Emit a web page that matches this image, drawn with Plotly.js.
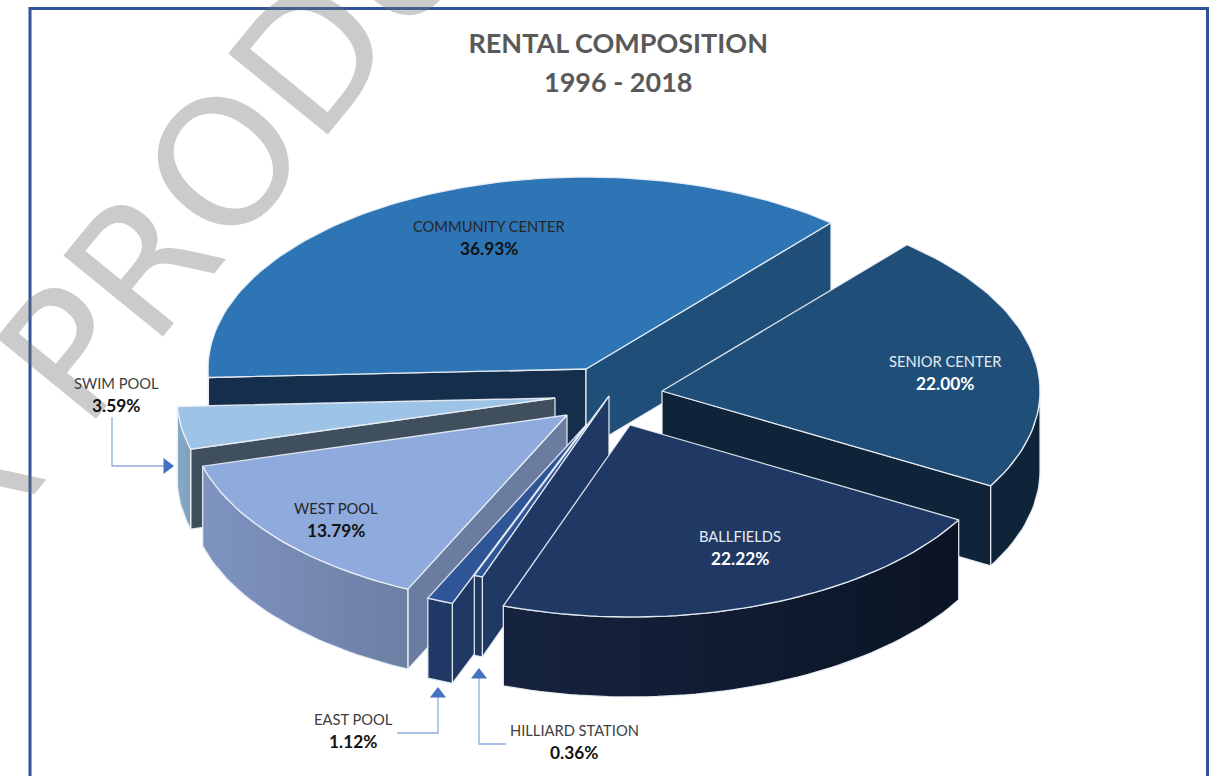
<!DOCTYPE html>
<html>
<head>
<meta charset="utf-8">
<script src="https://cdn.plot.ly/plotly-3.0.1.min.js"></script>
<style>html,body{margin:0;padding:0;background:#fff;overflow:hidden}#chart{width:1223px;height:776px}</style>
</head>
<body>
<div id="chart"></div>
<script>
// Data, clockwise from the back-right edge of the pie
const categories = ["SENIOR CENTER","BALLFIELDS","HILLIARD STATION","EAST POOL","WEST POOL","SWIM POOL","COMMUNITY CENTER"];
const shares = [22.00,22.22,0.36,1.12,13.79,3.59,36.93];
const titleLines = ["RENTAL COMPOSITION","1996 - 2018"];
const watermark = "R PRODU";

// Projection of the tilted, exploded pie
const START_ANGLE = 49.6, RX = 378, RY = 192, DEPTH = 80;
const total = shares.reduce((a,b)=>a+b,0);
const hubs = {
  "SENIOR CENTER":[662,391],"BALLFIELDS":[630,425],"HILLIARD STATION":[609,396],
  "EAST POOL":[587,424],"WEST POOL":[567,415],"SWIM POOL":[555,398],"COMMUNITY CENTER":[586,369]
};
const looks = {
  "SENIOR CENTER":{top:"#1f4e79",wall:"#0f2438",rim:["#0f2438","#0f2438"]},
  "BALLFIELDS":{top:"#1f3864",wall:"#1f3864",rim:["#16233f","#0b1425"]},
  "HILLIARD STATION":{top:"#2e5597",wall:"#1f3864",rim:["#1f3864","#1f3864"]},
  "EAST POOL":{top:"#2f5597",wall:"#203864",rim:["#203a68","#203864"]},
  "WEST POOL":{top:"#8faadc",wall:"#6a7da0",rim:["#7e93c0","#6c80a4"]},
  "SWIM POOL":{top:"#9dc3e6",wall:"#3f4f5e",rim:["#87aac8","#7fa0bc"]},
  "COMMUNITY CENTER":{top:"#2e75b6",wall:"#1f4e79",wall2:"#142e4b",rim:["#142e4b","#142e4b"]}
};
const paintOrder = ["COMMUNITY CENTER","SWIM POOL","WEST POOL","EAST POOL","HILLIARD STATION","SENIOR CENTER","BALLFIELDS"];

// Angular span of each slice, from its share
const spans = {};
let cursor = START_ANGLE;
categories.forEach((c,i)=>{ const next = cursor - shares[i]/total*360; spans[c]=[cursor,next]; cursor = next; });

const rad = d => d*Math.PI/180;
function at(hub,deg,drop){ return [hub[0]+RX*Math.cos(rad(deg)), hub[1]-RY*Math.sin(rad(deg))+(drop||0)]; }
function arc(hub,a,b,drop){ const n=Math.max(2,Math.ceil(Math.abs(a-b)/1.5)), out=[]; for(let i=0;i<=n;i++) out.push(at(hub,a+(b-a)*i/n,drop)); return out; }
const EDGE = "rgba(235,240,246,0.92)";
function poly(pts,color,name,extra){
  const xs=pts.map(p=>p[0]).concat(pts[0][0]), ys=pts.map(p=>p[1]).concat(pts[0][1]);
  return Object.assign({type:"scatter",mode:"lines",x:xs,y:ys,fill:"toself",fillcolor:color,name,
    line:{color:EDGE,width:1.3},hoverinfo:"name",showlegend:false},extra||{});
}
const traces=[];
paintOrder.forEach(c=>{
  const [a1,a2]=spans[c], hub=hubs[c], look=looks[c];
  [[a1,a1+90,look.wall2||look.wall],[a2,a2-90,look.wall]].forEach(([edge,normal,color])=>{
    if(Math.sin(rad(normal))<0){
      const p=at(hub,edge);
      traces.push(poly([[hub[0],hub[1]],p,[p[0],p[1]+DEPTH],[hub[0],hub[1]+DEPTH]],color,c));
    }
  });
  const rimA=Math.min(a1,0), rimB=Math.max(a2,-180);
  if(rimA>rimB){
    const upper=arc(hub,rimA,rimB), lower=arc(hub,rimB,rimA,DEPTH), pts=upper.concat(lower);
    const xs=pts.map(p=>p[0]);
    traces.push(poly(pts,look.rim[0],c,{fillgradient:{type:"horizontal",
      start:Math.min(...xs),stop:Math.max(...xs),colorscale:[[0,look.rim[0]],[1,look.rim[1]]]}}));
  }
  traces.push(poly([[hub[0],hub[1]]].concat(arc(hub,a1,a2)),look.top,c));
});

// Leader lines and their arrow heads
const leaders=[
  {x:[112,112,165],y:[417,466,466],tx:167,ty:466,sym:"triangle-right"},
  {x:[397,438,438],y:[733,733,697],tx:438,ty:694,sym:"triangle-up"},
  {x:[506,479,479],y:[744,744,678],tx:479,ty:675,sym:"triangle-up"}
];
leaders.forEach(l=>{
  traces.push({type:"scatter",mode:"lines",x:l.x,y:l.y,line:{color:"#8fabe0",width:1.3},hoverinfo:"skip",showlegend:false});
  traces.push({type:"scatter",mode:"markers",x:[l.tx],y:[l.ty],marker:{symbol:l.sym,size:14,color:"#4472c4"},hoverinfo:"skip",showlegend:false});
});

// Labels
const FONT="Lato, Carlito, 'Open Sans', sans-serif";
const labelSpots={
  "COMMUNITY CENTER":[489,226,"#262626","#111111"],"SENIOR CENTER":[945,361,"#e6ebf0","#ffffff"],
  "BALLFIELDS":[740,536,"#e6ebf0","#ffffff"],"WEST POOL":[336,508,"#262626","#111111"],
  "SWIM POOL":[116,383,"#404040","#111111"],"EAST POOL":[353,719,"#404040","#111111"],
  "HILLIARD STATION":[574,730,"#404040","#111111"]
};
const annotations=[];
annotations.push({xref:"x",yref:"y",x:181,y:218,text:watermark,showarrow:false,textangle:-50.8,
  font:{family:"'DejaVu Sans'",size:176,color:"rgba(110,110,110,0.36)"},xanchor:"center",yanchor:"middle"});
annotations.push({xref:"x",yref:"y",x:618,y:81,text:"<b>"+titleLines[1]+"</b>",showarrow:false,
  font:{family:FONT,size:27,color:"#595959"},xanchor:"center",yanchor:"middle"});
categories.forEach((c,i)=>{
  const s=labelSpots[c];
  annotations.push({xref:"x",yref:"y",x:s[0],y:s[1],text:c,showarrow:false,font:{family:FONT,size:14.7,color:s[2]},xanchor:"center",yanchor:"middle"});
  annotations.push({xref:"x",yref:"y",x:s[0],y:s[1]+22,text:"<b>"+shares[i].toFixed(2)+"%</b>",showarrow:false,font:{family:FONT,size:17.3,color:s[3]},xanchor:"center",yanchor:"middle"});
});

const layout={
  width:1223,height:776,margin:{l:0,r:0,t:0,b:0},paper_bgcolor:"#fff",plot_bgcolor:"#fff",showlegend:false,
  title:{text:"<b>"+titleLines[0]+"</b>",x:0.5055,xanchor:"center",y:0.9445,yanchor:"middle",font:{family:FONT,size:27,color:"#595959"}},
  xaxis:{range:[0,1223],visible:false,fixedrange:true},
  yaxis:{range:[776,0],visible:false,fixedrange:true},
  shapes:[{type:"rect",xref:"x",yref:"y",x0:30,x1:1207.5,y0:8.5,y1:800,line:{color:"#2f5597",width:3},layer:"below"}],
  annotations
};
Plotly.newPlot("chart",traces,layout,{displayModeBar:false,responsive:false});
</script>
</body>
</html>
